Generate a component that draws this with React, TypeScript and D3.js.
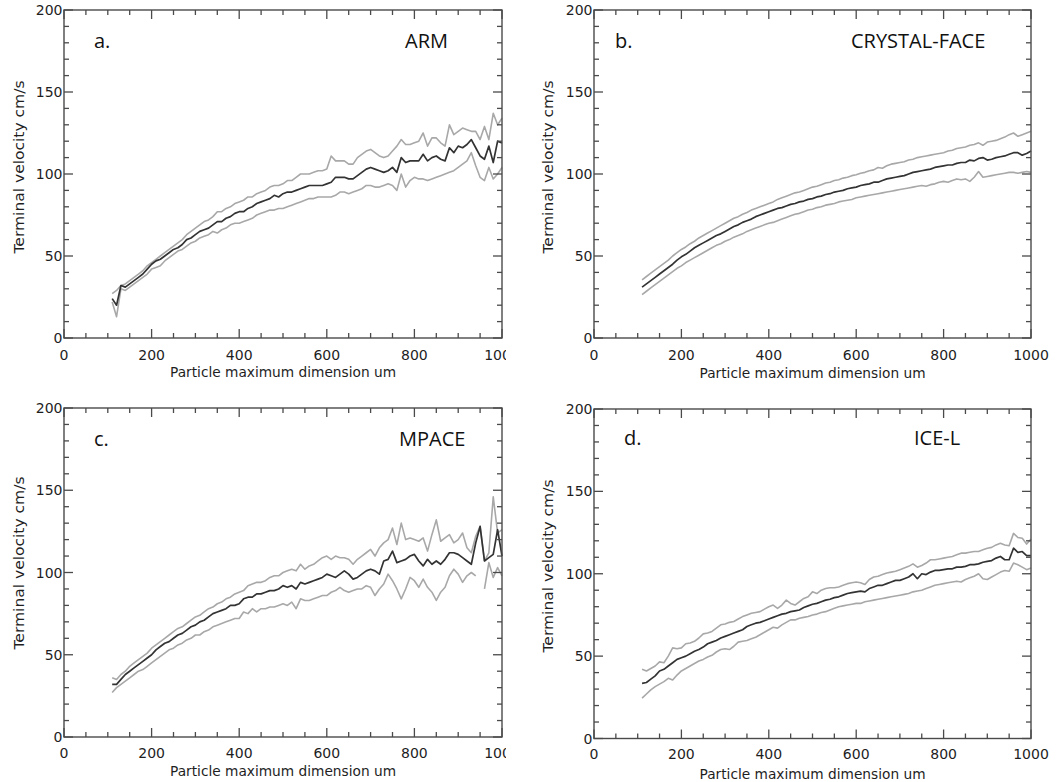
import React from 'react';
import * as d3 from 'd3';

// Particle maximum dimension bins (um)
const SIZE_BINS = [110,120,130,140,150,160,170,180,190,200,210,220,230,240,250,260,270,280,290,300,310,320,330,340,350,360,370,380,390,400,410,420,430,440,450,460,470,480,490,500,510,520,530,540,550,560,570,580,590,600,610,620,630,640,650,660,670,680,690,700,710,720,730,740,750,760,770,780,790,800,810,820,830,840,850,860,870,880,890,900,910,920,930,940,950,960,970,980,990,1000];

const X_TICKS = [0, 200, 400, 600, 800, 1000];
const Y_TICKS = [0, 50, 100, 150, 200];

// a. ARM
const ARM_MEAN = [24,20,32,31,33,35,37,39,42,45,47,48,50,52,54,55,57,60,61,63,65,66,67,69,71,71,73,74,76,77,77,79,80,82,83,84,85,87,86,88,89,89,90,91,92,93,93,93,93,94,95,98,98,98,97,97,99,101,103,104,103,102,101,102,104,101,110,107,108,108,108,112,108,110,111,109,108,116,113,117,116,118,121,116,111,109,117,107,120,119];
const ARM_UPPER = [27,29,32,33,35,37,39,41,44,46,48,50,52,54,56,58,60,63,65,67,69,71,72,74,77,77,79,80,82,83,84,86,86,88,89,90,92,93,93,94,96,96,98,100,100,100,101,102,102,103,111,108,108,108,106,106,110,112,114,115,113,111,110,111,114,117,121,118,118,119,120,125,117,122,122,119,117,130,124,126,128,127,126,126,121,129,121,137,130,134];
const ARM_LOWER = [22,13,30,29,31,33,35,37,39,42,43,44,47,49,51,53,54,56,58,59,61,62,63,65,64,66,67,69,70,70,71,72,73,75,76,77,78,78,79,79,80,81,82,83,84,85,85,86,86,86,86,87,89,89,88,89,90,91,93,93,92,92,93,94,93,90,100,92,96,98,97,97,96,97,98,99,100,101,102,104,106,108,113,105,98,96,104,97,100,104];

// b. CRYSTAL-FACE
const CF_MEAN = [31,33,35,37,39,41,43,45,47.5,49.5,51,53,55,56.5,58,59.5,61,62.5,63.5,65,66.5,68,69,70.5,71.5,72.5,74,75,76,77,78,79,79.5,80.5,81.5,82,83,83.5,84.5,85,86,86.5,87.5,88,89,89.5,90,91,91.5,92,93,93.5,94,95,95,96,97,97.5,98,98.5,99,100,101,101.5,102,102.5,103,104,104.5,105,105.5,105.5,106.5,107,107,108.5,108,109.5,110,108.5,109,110,110.5,111,112,113,113,111.5,112.5,114];
const CF_UPPER = [35.5,37.5,39.5,41.5,43.5,45.5,47.5,50,52,54,55.5,57.5,59,61,62.5,64,65.5,67,68.5,70,71.5,73,74,75.5,76.5,78,79,80,81,82,83,84.5,85.5,86.5,87.5,88.5,89,90,91,92,92.5,93.5,94.5,95,96,96.5,97.5,98,99,99.5,100.5,101,102,102.5,104,103.5,105,106,106.5,107,107.5,108.5,109,110,110.5,111,111.5,112,112.5,113,114,114.5,115.5,116,116.5,117.5,118,119,117.5,119.5,120,120.5,121.5,122.5,124,125,123,124,125,126];
const CF_LOWER = [26.5,28.5,30.5,32.5,34.5,36.5,38.5,40.5,42.5,44,46,47.5,49,50.5,52,53.5,55,56.5,57.5,59,60,61.5,62.5,63.5,65,66,67,68,69,70,70.5,71.5,72.5,73.5,74.5,75.5,76,77,78,78.5,79.5,80,81,81.5,82,83,83.5,84,84.5,85.5,86,86.5,87,87.5,88,88.5,89,89.5,90,90.5,91,91.5,92,92.5,93,92.5,93.5,94,95,95.5,95,96,97,96.5,97,95.5,98,101.5,98,98.5,99,99.5,100,100.5,101,101,100.5,101,101.5,101];

// c. MPACE
const MP_MEAN = [32,32,35,38,40,42,44,46,48,50,53,55,57,58,60,62,63,65,67,68,70,71,73,75,76,77,78,80,80,81,84,85,85,87,87,88,89,89,90,92,91,92,90,94,93,94,95,96,97,99,98,97,99,101,99,96,97,99,101,102,101,99,107,108,113,106,107,108,110,111,107,104,108,105,107,105,108,112,112,111,109,107,105,118,128,107,109,111,126,110];
const MP_UPPER = [36,35,38,40,43,45,47,49,51,54,56,58,60,62,64,66,67,69,71,73,74,76,78,79,81,82,84,85,87,88,89,92,93,94,94,95,97,98,98,100,101,102,101,105,102,104,105,107,109,110,108,110,109,109,108,105,108,110,112,114,110,115,118,120,127,117,130,120,121,120,119,121,113,123,132,119,121,123,118,120,124,115,112,122,128,107,112,146,124,126];
const MP_LOWER = [27,30,32,34,36,38,40,41,43,45,47,49,51,53,54,56,57,59,60,62,62,64,65,67,68,69,70,71,72,72,76,75,78,76,78,78,79,79,80,81,80,82,78,84,83,83,84,85,86,86,88,89,91,89,88,89,90,90,92,91,86,90,93,99,95,90,84,90,97,95,91,96,91,88,83,88,91,98,102,99,94,98,100,98,null,90,106,97,103,98];

// d. ICE-L
const IL_MEAN = [33.5,34,36,38,41,42,44,46,48,49,50,51.5,53,54,55.5,57.5,58.5,59.5,61,62,63,64,65,66,68,69,70,70.5,71.5,72.5,73.5,74.5,75.5,76,77,77.5,78,79.5,80.5,81.5,82,83,84,84.5,85.5,86,87,88,88.5,89,89.5,89,91,92,93,93,94,95,96,96,97,98,100,97,100,99.5,101,102,102,102.5,103,103,104,104,104.5,105.5,105.5,106,107,107.5,108,109.5,110.5,108.5,108.5,115.5,113,113.5,111,111];
const IL_UPPER = [42,41,42.5,44,46.5,46,50,55,54.5,55,57.5,58,59,61,63.5,64,65,67,69,69.5,70.5,71,72.5,74,75,76,76.5,77,78.5,80,81,79,81,84,82,81,83,85,86,89,88,90,91,91.5,91.5,92,93,94,94.5,95,94.5,93.5,96.5,98,98.5,99.5,100.5,101,101.5,102.5,103.5,104.5,106,104,105,106.5,108.5,108.5,109,109.5,110,110.5,111.5,112.5,112.5,113,113.5,113.5,114.5,115.5,116,117.5,118.5,117.5,117,124.5,122,121.5,118,121];
const IL_LOWER = [24.5,27,29.5,31.5,33,34.5,36.5,35.5,38.5,41,42.5,44,45.5,47,48,49.5,50.5,52.5,54,54.5,54,56,58.5,59,59.5,60.5,61.5,63,64.5,66,67.5,67,69,70.5,72,72,73,73.5,74,75,75.5,76.5,77,78,79,80,80.5,81,81.5,82,82,83,83.5,84,84.5,85,85.5,86,86.5,87,87.5,88,89,89.5,90,91,92,93,93.5,94,94.5,95,95.5,95,96.5,97.5,98.5,100,97,96.5,98,99.5,101,102,101.5,106.5,105.5,104,102.5,103.5];

type Box = { l: number; r: number; t: number; b: number };
type PanelCfg = {
  key: string; letter: string; name: string;
  mean: (number | null)[]; upper: (number | null)[]; lower: (number | null)[];
  box: Box; letterX: number; letterY: number; nameX: number; nameY: number;
  yTitleX: number; yTitleY: number; xTickY: number; xTitleY: number; clipRight?: number;
};

const PANELS: PanelCfg[] = [
  { key: 'a', letter: 'a.', name: 'ARM', mean: ARM_MEAN, upper: ARM_UPPER, lower: ARM_LOWER,
    box: { l: 64, r: 502, t: 10, b: 338 }, letterX: 94, letterY: 47.5, nameX: 405, nameY: 47.5,
    yTitleX: 19, yTitleY: 167, xTickY: 360, xTitleY: 377, clipRight: 506 },
  { key: 'b', letter: 'b.', name: 'CRYSTAL-FACE', mean: CF_MEAN, upper: CF_UPPER, lower: CF_LOWER,
    box: { l: 594, r: 1031, t: 10, b: 338 }, letterX: 615, letterY: 47.5, nameX: 851, nameY: 47.5,
    yTitleX: 548, yTitleY: 167, xTickY: 360, xTitleY: 378 },
  { key: 'c', letter: 'c.', name: 'MPACE', mean: MP_MEAN, upper: MP_UPPER, lower: MP_LOWER,
    box: { l: 64, r: 502, t: 408, b: 737 }, letterX: 94, letterY: 446, nameX: 399, nameY: 446,
    yTitleX: 19, yTitleY: 563, xTickY: 758, xTitleY: 776, clipRight: 506 },
  { key: 'd', letter: 'd.', name: 'ICE-L', mean: IL_MEAN, upper: IL_UPPER, lower: IL_LOWER,
    box: { l: 594, r: 1031, t: 409, b: 738.5 }, letterX: 624, letterY: 445, nameX: 914, nameY: 445,
    yTitleX: 548, yTitleY: 566, xTickY: 759, xTitleY: 779 },
];

const AXIS_COLOR = '#4a4a4a';
const TEXT_COLOR = '#1e1e1e';
const TICK_FONT = '"DejaVu Sans", sans-serif';
const TITLE_FONT = '"Open Sans", "Noto Sans", sans-serif';

function Panel({ p }: { p: PanelCfg }) {
  const { l, r, t, b } = p.box;
  const x = d3.scaleLinear().domain([0, 1000]).range([l, r]);
  const y = d3.scaleLinear().domain([0, 200]).range([b, t]);
  const minorX = d3.range(0, 1001, 50).filter((v) => v % 200 !== 0);
  const minorY = d3.range(0, 201, 10).filter((v) => v % 50 !== 0);
  const mk = (vals: (number | null)[]) =>
    d3.line<number>()
      .defined((_, i) => vals[i] !== null && vals[i] !== undefined)
      .x((v) => x(v))
      .y((_, i) => y(vals[i] as number))(SIZE_BINS) || '';
  const MAJ = 9, MIN = 5;
  const clipId = `clip-${p.key}`;
  return (
    <g>
      {p.clipRight && (
        <defs>
          <clipPath id={clipId}>
            <rect x={0} y={0} width={p.clipRight} height={782} />
          </clipPath>
        </defs>
      )}
      {/* data lines */}
      <path d={mk(p.upper)} fill="none" stroke="#a8a8a8" strokeWidth={1.6} strokeLinejoin="round" />
      <path d={mk(p.lower)} fill="none" stroke="#a8a8a8" strokeWidth={1.6} strokeLinejoin="round" />
      <path d={mk(p.mean)} fill="none" stroke="#333" strokeWidth={1.7} strokeLinejoin="round" />
      {/* frame */}
      <rect x={l} y={t} width={r - l} height={b - t} fill="none" stroke={AXIS_COLOR} strokeWidth={1.4} />
      {/* ticks */}
      <g stroke={AXIS_COLOR} strokeWidth={1.3}>
        {X_TICKS.map((v) => (
          <g key={`xm${v}`}>
            <line x1={x(v)} x2={x(v)} y1={b} y2={b - MAJ} />
            <line x1={x(v)} x2={x(v)} y1={t} y2={t + MAJ} />
          </g>
        ))}
        {minorX.map((v) => (
          <g key={`xn${v}`}>
            <line x1={x(v)} x2={x(v)} y1={b} y2={b - MIN} />
            <line x1={x(v)} x2={x(v)} y1={t} y2={t + MIN} />
          </g>
        ))}
        {Y_TICKS.map((v) => (
          <g key={`ym${v}`}>
            <line x1={l} x2={l + MAJ} y1={y(v)} y2={y(v)} />
            <line x1={r} x2={r - MAJ} y1={y(v)} y2={y(v)} />
          </g>
        ))}
        {minorY.map((v) => (
          <g key={`yn${v}`}>
            <line x1={l} x2={l + MIN} y1={y(v)} y2={y(v)} />
            <line x1={r} x2={r - MIN} y1={y(v)} y2={y(v)} />
          </g>
        ))}
      </g>
      {/* tick labels */}
      <g fontFamily={TICK_FONT} fontSize={14} fill={TEXT_COLOR} clipPath={p.clipRight ? `url(#${clipId})` : undefined}>
        {X_TICKS.map((v) => (
          <text key={`xl${v}`} x={x(v)} y={p.xTickY} textAnchor="middle">{v}</text>
        ))}
      </g>
      <g fontFamily={TICK_FONT} fontSize={14} fill={TEXT_COLOR}>
        {Y_TICKS.map((v) => (
          <text key={`yl${v}`} x={l - 1.5} y={y(v)} dy="0.36em" textAnchor="end">{v}</text>
        ))}
        <text x={(l + r) / 2} y={p.xTitleY} textAnchor="middle" textLength={226} lengthAdjust="spacingAndGlyphs">
          Particle maximum dimension um
        </text>
        <text transform={`translate(${p.yTitleX},${p.yTitleY}) rotate(-90)`} textAnchor="middle" dy="0.36em"
          textLength={173} lengthAdjust="spacingAndGlyphs">
          Terminal velocity cm/s
        </text>
      </g>
      {/* panel labels */}
      <g fontFamily={TITLE_FONT} fontSize={20} fill="#111">
        <text x={p.letterX} y={p.letterY}>{p.letter}</text>
        <text x={p.nameX} y={p.nameY}>{p.name}</text>
      </g>
    </g>
  );
}

export default function App() {
  return (
    <svg width={1057} height={782} style={{ position: 'absolute', left: 0, top: 0, background: '#fff' }}>
      <rect x={0} y={0} width={1057} height={782} fill="#fff" />
      {PANELS.map((p) => (
        <Panel key={p.key} p={p} />
      ))}
    </svg>
  );
}
